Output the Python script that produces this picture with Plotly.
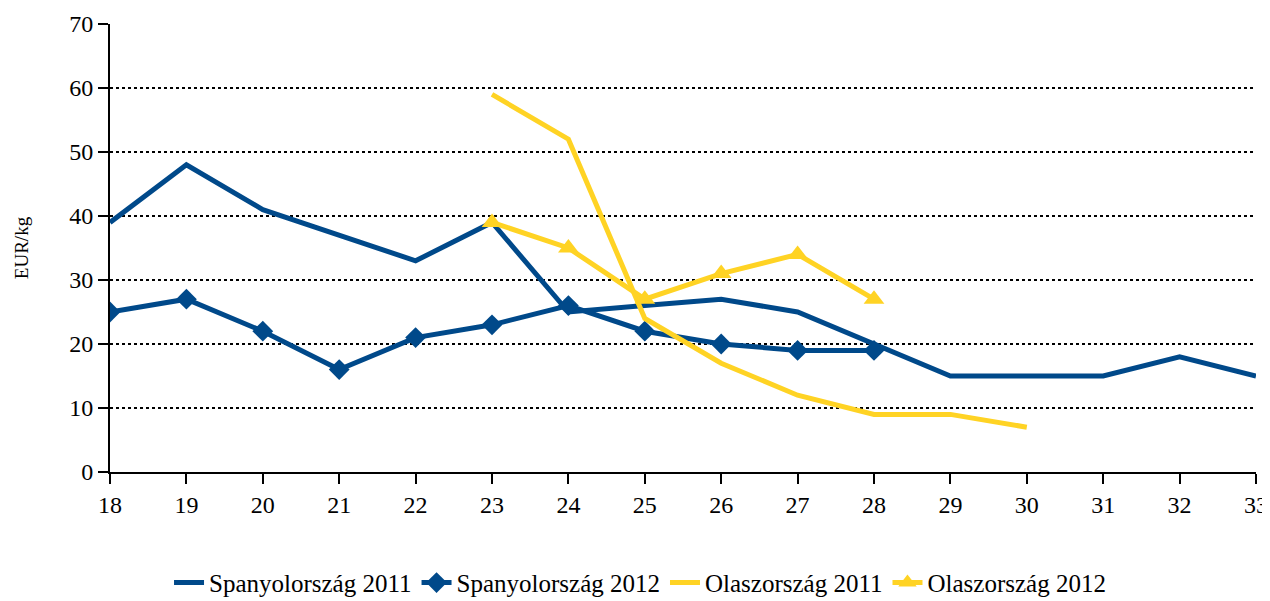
import plotly.graph_objects as go

weeks = list(range(18, 34))
es2011 = [39, 48, 41, 37, 33, 39, 25, 26, 27, 25, 20, 15, 15, 15, 18, 15]
weeks_es2012 = list(range(18, 29))
es2012 = [25, 27, 22, 16, 21, 23, 26, 22, 20, 19, 19]
weeks_it2011 = list(range(23, 31))
it2011 = [59, 52, 24, 17, 12, 9, 9, 7]
weeks_it2012 = list(range(23, 29))
it2012 = [39, 35, 27, 31, 34, 27]
y_ticks = [0, 10, 20, 30, 40, 50, 60, 70]

BLUE = "#00498A"
YELLOW = "#FFD324"
FONT = "Liberation Serif"

fig = go.Figure()
fig.add_trace(go.Scatter(x=weeks, y=es2011, mode="lines", name="Spanyolország 2011",
                         line=dict(color=BLUE, width=5)))
fig.add_trace(go.Scatter(x=weeks_es2012, y=es2012, mode="lines+markers", name="Spanyolország 2012",
                         line=dict(color=BLUE, width=5),
                         marker=dict(symbol="diamond", size=16, color=BLUE)))
fig.add_trace(go.Scatter(x=weeks_it2011, y=it2011, mode="lines", name="Olaszország 2011",
                         line=dict(color=YELLOW, width=5)))
fig.add_trace(go.Scatter(x=weeks_it2012, y=it2012, mode="lines+markers", name="Olaszország 2012",
                         line=dict(color=YELLOW, width=5),
                         marker=dict(symbol="triangle-up", size=18, color=YELLOW)))

# page body adds an 8px offset, so the figure is 1262x593 and shifted
fig.update_layout(
    width=1262, height=593,
    margin=dict(l=102, r=14, t=16, b=129, autoexpand=False),
    plot_bgcolor="white", paper_bgcolor="white",
    font=dict(family=FONT, size=24, color="black"),
    showlegend=True,
    legend=dict(orientation="h", x=0.4625, xanchor="center", y=-0.196, yanchor="top",
                font=dict(family=FONT, size=25), itemwidth=30, tracegroupgap=0,
                bgcolor="rgba(0,0,0,0)"),
)
fig.update_xaxes(range=[18, 33], tickmode="array", tickvals=weeks,
                 showline=True, linecolor="black", linewidth=2,
                 ticks="outside", ticklen=10, tickwidth=2, tickcolor="black",
                 tickfont=dict(family=FONT, size=24),
                 showgrid=False, zeroline=False, automargin=False)
fig.update_yaxes(range=[0, 70], tickmode="array", tickvals=y_ticks,
                 showline=True, linecolor="black", linewidth=2,
                 ticks="outside", ticklen=10, tickwidth=2, tickcolor="black",
                 tickfont=dict(family=FONT, size=24),
                 showgrid=True, gridcolor="black", gridwidth=2, griddash="dot",
                 zeroline=False, automargin=False,
                 title=dict(text="EUR/kg", font=dict(family=FONT, size=19), standoff=36))

fig.write_html("out.html")
